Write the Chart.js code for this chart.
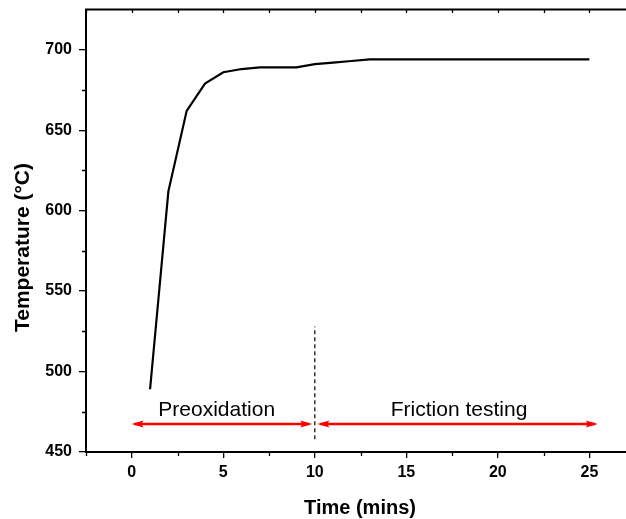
<!DOCTYPE html>
<html>
<head>
<meta charset="utf-8">
<script src="https://cdn.jsdelivr.net/npm/chart.js@4/dist/chart.umd.min.js"></script>
<style>
  body { margin: 0; background: #fff; overflow: hidden; }
  canvas { display: block; }
</style>
</head>
<body>
<canvas id="grafico" width="626" height="519"></canvas>
<script>
// dados
const timeMins = [1, 2, 3, 4, 5, 6, 7, 8, 9, 10, 11, 12, 13, 14, 15, 16, 17, 18, 19, 20, 21, 22, 23, 24, 25];
const tempC = [489, 612, 662, 679, 686, 688, 689, 689, 689, 691, 692, 693, 694, 694, 694, 694, 694, 694, 694, 694, 694, 694, 694, 694, 694];

const xTicks = [0, 5, 10, 15, 20, 25];
const xMinorTicks = [-2.5, 2.5, 7.5, 12.5, 17.5, 22.5];
const yTicks = [450, 500, 550, 600, 650, 700];
const yMinorTicks = [475, 525, 575, 625, 675];

// linha tracejada em t = 10
const dividerX = [10, 10];
const dividerY = [458, 528];

// setas vermelhas das fases
const phaseNames = ["Preoxidation", "Friction testing"];
const phaseStart = [0.15, 10.3];
const phaseEnd = [9.7, 25.3];
const phaseArrowY = 467.4;
const phaseLabelX = [4.64, 17.88];
const phaseLabelY = 472.5;

const TICK_FONT = { family: "'Liberation Sans', Arial, sans-serif", size: 16, weight: "bold" };

let datasets = [
  {
    label: "Temperatura",
    data: timeMins.map((t, i) => ({ x: t, y: tempC[i] })),
    borderColor: "#000",
    borderWidth: 2.2,
    pointRadius: 0,
    tension: 0,
  },
  {
    label: "divisao",
    data: dividerX.map((x, i) => ({ x: x, y: dividerY[i] })),
    borderColor: "#000",
    borderWidth: 1.2,
    borderDash: [4, 3],
    pointRadius: 0,
  },
];

for (let i = 0; i < phaseNames.length; i++) {
  datasets.push({
    label: phaseNames[i],
    data: [
      { x: phaseStart[i], y: phaseArrowY },
      { x: phaseEnd[i], y: phaseArrowY },
    ],
    borderColor: "#ff0000",
    borderWidth: 2.5,
    pointRadius: 0,
    isArrow: true,
  });
}

// pontas das setas + textos das fases
const phasePlugin = {
  id: "phases",
  afterDatasetsDraw(chart) {
    const ctx = chart.ctx;
    const xs = chart.scales.x;
    const ys = chart.scales.y;
    ctx.save();
    chart.data.datasets.forEach((ds, di) => {
      if (!ds.isArrow) return;
      const pts = chart.getDatasetMeta(di).data;
      const a = pts[0], b = pts[pts.length - 1];
      ctx.fillStyle = "#ff0000";
      drawHead(ctx, a.x, a.y, -1);
      drawHead(ctx, b.x, b.y, 1);
    });
    ctx.fillStyle = "#000";
    ctx.font = "21px 'Liberation Sans', Arial, sans-serif";
    ctx.textAlign = "center";
    ctx.textBaseline = "alphabetic";
    for (let i = 0; i < phaseNames.length; i++) {
      ctx.fillText(phaseNames[i], xs.getPixelForValue(phaseLabelX[i]), ys.getPixelForValue(phaseLabelY));
    }
    ctx.restore();
  },
};

function drawHead(ctx, x, y, dir) {
  ctx.beginPath();
  ctx.moveTo(x + dir * 3, y);
  ctx.lineTo(x - dir * 9, y - 3.5);
  ctx.lineTo(x - dir * 7, y);
  ctx.lineTo(x - dir * 9, y + 3.5);
  ctx.closePath();
  ctx.fill();
}

// eixo de cima, ticks menores e titulos dos eixos
const framePlugin = {
  id: "frame",
  afterDraw(chart) {
    const ctx = chart.ctx;
    const area = chart.chartArea;
    const xs = chart.scales.x;
    const ys = chart.scales.y;
    ctx.save();
    ctx.strokeStyle = "#000";

    // linha de cima
    ctx.lineWidth = 2;
    ctx.beginPath();
    ctx.moveTo(area.left - 1, area.top);
    ctx.lineTo(chart.width, area.top);
    ctx.stroke();

    ctx.lineWidth = 1.3;
    ctx.beginPath();
    xTicks.concat(xMinorTicks).forEach((v) => {
      const px = Math.round(xs.getPixelForValue(v)) + 0.5;
      ctx.moveTo(px, area.top);
      ctx.lineTo(px, area.top + 3.5);
    });
    xMinorTicks.forEach((v) => {
      const px = Math.round(xs.getPixelForValue(v)) + 0.5;
      ctx.moveTo(px, area.bottom);
      ctx.lineTo(px, area.bottom + 4);
    });
    yMinorTicks.forEach((v) => {
      const py = Math.round(ys.getPixelForValue(v)) + 0.5;
      ctx.moveTo(area.left, py);
      ctx.lineTo(area.left - 4, py);
    });
    ctx.stroke();

    ctx.fillStyle = "#000";
    ctx.font = "bold 20px 'Liberation Sans', Arial, sans-serif";
    ctx.textAlign = "center";
    ctx.textBaseline = "alphabetic";
    ctx.fillText("Time (mins)", 360, 514);

    ctx.font = "bold 21px 'Liberation Sans', Arial, sans-serif";
    ctx.translate(23, 247.5);
    ctx.rotate(-Math.PI / 2);
    ctx.textBaseline = "middle";
    ctx.fillText("Temperature (°C)", 0, 0);
    ctx.restore();
  },
};

const config = {
  type: "line",
  data: { datasets: datasets },
  options: {
    responsive: false,
    animation: false,
    layout: { padding: { top: 9.5, left: 0, right: 0, bottom: 0 } },
    plugins: {
      legend: { display: false },
      tooltip: { enabled: false },
    },
    scales: {
      x: {
        type: "linear",
        min: -2.5,
        max: 27,
        afterFit: (s) => { s.height = 67; s.paddingLeft = 0; s.paddingRight = 0; },
        afterBuildTicks: (s) => { s.ticks = xTicks.map((v) => ({ value: v })); },
        grid: { drawOnChartArea: false, drawTicks: true, tickLength: 6, color: "#000", lineWidth: 1.3 },
        border: { color: "#000", width: 2 },
        ticks: { color: "#000", font: TICK_FONT, padding: 5, maxRotation: 0 },
      },
      y: {
        type: "linear",
        min: 450,
        max: 725,
        afterFit: (s) => { s.width = 86; s.paddingTop = 0; s.paddingBottom = 0; },
        afterBuildTicks: (s) => { s.ticks = yTicks.map((v) => ({ value: v })); },
        grid: { drawOnChartArea: false, drawTicks: true, tickLength: 7, color: "#000", lineWidth: 1.3 },
        border: { color: "#000", width: 2 },
        ticks: { color: "#000", font: TICK_FONT, padding: 7 },
      },
    },
  },
  plugins: [phasePlugin, framePlugin],
};

let myChart = new Chart(document.getElementById("grafico"), config);
</script>
</body>
</html>
